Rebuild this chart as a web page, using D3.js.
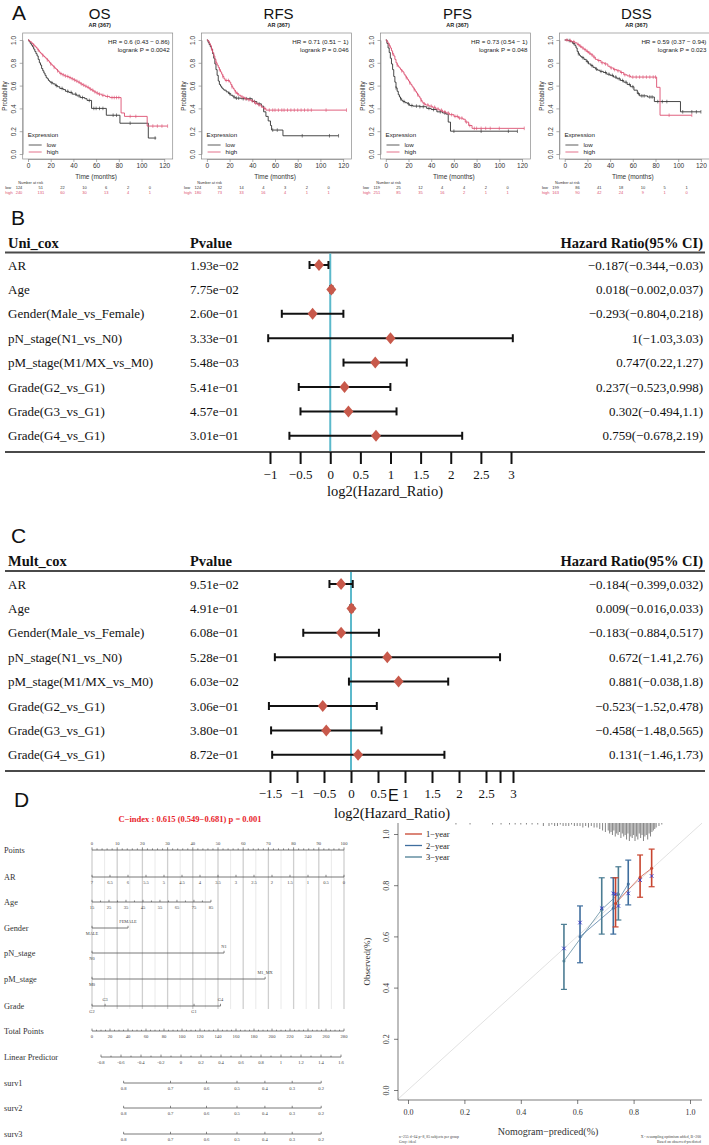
<!DOCTYPE html>
<html><head><meta charset="utf-8">
<script src="https://cdn.jsdelivr.net/npm/d3@7"></script>
<style>body{margin:0;background:#fff}svg{display:block}</style>
</head><body><svg id="c" width="709" height="1145"></svg>
<script>
// ================= DATA =================
// Panel A: Kaplan-Meier
const kmTitles = ["OS","RFS","PFS","DSS"];
const kmSubtitle = "AR (367)";
const kmHR = ["HR = 0.6 (0.43 − 0.86)","HR = 0.71 (0.51 − 1)","HR = 0.73 (0.54 − 1)","HR = 0.59 (0.37 − 0.94)"];
const kmLogrank = ["logrank P = 0.0042","logrank P = 0.046","logrank P = 0.048","logrank P = 0.023"];
const kmXTicks = [0,20,40,60,80,100,120];
const kmYTicks = [0,0.2,0.4,0.6,0.8,1.0];
const kmGroups = ["low","high"];

const osLow = [[0,1],[1,0.985],[2,0.97],[3,0.955],[4,0.94],[5,0.92],[6,0.9],[7,0.88],[8,0.86],[9,0.83],[10,0.8],[11,0.78],[12,0.75],[13,0.73],[14,0.71],[15,0.69],[16,0.67],[17,0.66],[18,0.645],[19,0.635],[20,0.625],[22,0.615],[24,0.6],[26,0.59],[28,0.575],[31,0.565],[33,0.55],[36,0.54],[39,0.525],[43,0.51],[46,0.495],[50,0.485],[52,0.47],[56,0.4],[69,0.34],[81,0.27],[106,0.14],[113,0.14]];
const osHigh = [[0,1],[1,0.99],[2,0.985],[3,0.975],[4,0.965],[5,0.955],[6,0.945],[7,0.935],[8,0.92],[9,0.91],[10,0.895],[11,0.885],[12,0.875],[13,0.865],[14,0.855],[15,0.845],[16,0.835],[17,0.825],[18,0.815],[19,0.8],[20,0.79],[21,0.78],[22,0.77],[23,0.76],[24,0.75],[25,0.74],[26,0.73],[27,0.72],[28,0.705],[30,0.695],[32,0.685],[34,0.68],[36,0.67],[38,0.66],[40,0.65],[42,0.64],[44,0.63],[46,0.615],[48,0.605],[50,0.595],[52,0.585],[54,0.57],[56,0.56],[58,0.545],[60,0.535],[62,0.525],[65,0.515],[68,0.505],[72,0.495],[82,0.36],[85,0.33],[105,0.245],[123,0.245]];
const osLowCens = [21,25,30,35,38,42,45,48,54,58,60,63,66,75,78,90,112];
const osHighCens = [5,9,13,17,20,23,26,29,31,33,35,37,39,41,43,45,47,49,51,53,55,57,59,61,63,66,70,74,76,78,80,90,95,110,114,118,123];

const rfsLow = [[0,1],[1,0.98],[2,0.96],[3,0.94],[4,0.92],[5,0.88],[6,0.84],[7,0.79],[8,0.74],[9,0.69],[10,0.64],[11,0.61],[12,0.595],[13,0.58],[14,0.57],[15,0.56],[17,0.545],[19,0.53],[21,0.515],[23,0.5],[25,0.49],[30,0.485],[40,0.46],[44,0.44],[48,0.42],[50,0.37],[52,0.33],[54,0.29],[56,0.25],[57,0.21],[67,0.16],[116,0.16]];
const rfsHigh = [[0,1],[1,0.99],[2,0.97],[3,0.95],[4,0.92],[5,0.89],[6,0.86],[7,0.83],[8,0.8],[9,0.78],[10,0.76],[11,0.74],[12,0.72],[13,0.7],[14,0.68],[15,0.66],[16,0.645],[20,0.63],[21,0.61],[22,0.59],[23,0.575],[24,0.56],[25,0.545],[26,0.53],[28,0.515],[30,0.5],[33,0.485],[36,0.475],[39,0.465],[42,0.445],[45,0.43],[48,0.41],[50,0.4],[52,0.385],[123,0.385]];
const rfsLowCens = [20,24,26,28,32,35,38,42,46,58,62,84,108,116];
const rfsHighCens = [4,8,11,14,17,19,22,25,27,31,34,37,40,43,46,51,55,58,60,63,66,68,71,74,77,80,83,86,89,92,105,123];

const pfsLow = [[0,1],[1,0.97],[2,0.93],[3,0.89],[4,0.84],[5,0.79],[6,0.74],[7,0.68],[8,0.63],[9,0.58],[10,0.55],[11,0.52],[12,0.5],[13,0.485],[14,0.47],[15,0.46],[17,0.45],[19,0.44],[21,0.425],[24,0.42],[30,0.415],[36,0.4],[40,0.39],[45,0.37],[50,0.36],[53,0.35],[55,0.28],[57,0.2],[116,0.2]];
const pfsHigh = [[0,1],[1,0.985],[2,0.97],[3,0.95],[4,0.93],[5,0.905],[6,0.88],[7,0.86],[8,0.83],[9,0.8],[10,0.78],[11,0.765],[12,0.755],[13,0.74],[14,0.73],[15,0.72],[16,0.7],[17,0.685],[18,0.67],[19,0.655],[20,0.64],[21,0.625],[22,0.61],[23,0.595],[24,0.58],[25,0.565],[26,0.55],[27,0.535],[28,0.52],[29,0.505],[30,0.49],[31,0.47],[32,0.455],[33,0.44],[35,0.43],[38,0.42],[41,0.41],[44,0.395],[47,0.385],[50,0.37],[53,0.36],[56,0.345],[60,0.33],[64,0.315],[68,0.305],[70,0.28],[73,0.25],[76,0.225],[122,0.225]];
const pfsLowCens = [9,13,16,20,23,27,30,33,38,42,48,52,60,84,108,116];
const pfsHighCens = [3,6,10,14,18,21,25,28,31,34,37,40,43,46,49,52,55,58,61,63,65,67,71,74,78,80,84,88,92,100,122];

const dssLow = [[0,1],[3,0.995],[5,0.985],[7,0.97],[9,0.95],[10,0.93],[11,0.9],[12,0.88],[13,0.865],[14,0.855],[15,0.845],[17,0.83],[19,0.81],[21,0.79],[23,0.775],[25,0.76],[27,0.745],[29,0.735],[31,0.725],[34,0.715],[37,0.7],[40,0.69],[43,0.675],[46,0.66],[49,0.645],[52,0.63],[55,0.61],[58,0.59],[61,0.56],[64,0.53],[66,0.51],[73,0.5],[79,0.46],[102,0.37],[120,0.37]];
const dssHigh = [[0,1],[3,0.995],[6,0.985],[9,0.975],[11,0.96],[13,0.945],[15,0.93],[17,0.915],[19,0.9],[21,0.885],[23,0.87],[25,0.85],[27,0.83],[29,0.82],[32,0.8],[35,0.79],[38,0.77],[40,0.755],[43,0.74],[46,0.73],[49,0.715],[52,0.695],[55,0.685],[58,0.675],[81,0.585],[84,0.34],[112,0.34]];
const dssLowCens = [4,8,12,16,20,24,28,32,36,39,42,45,48,51,54,57,60,65,68,70,75,77,82,86,90,104,112,116,120];
const dssHighCens = [2,5,8,12,14,16,18,20,22,24,26,30,33,36,41,44,47,50,53,57,60,63,66,69,72,75,78,80,92,112];

const riskTimes = [0,20,40,60,80,100,120];
const osRiskLow = [124,51,22,10,6,2,0],  osRiskHigh = [240,131,60,30,13,4,1];
const rfsRiskLow = [124,32,14,4,3,2,0],  rfsRiskHigh = [180,73,33,16,4,1,1];
const pfsRiskLow = [119,25,12,4,4,2,0],  pfsRiskHigh = [251,85,35,16,2,1,1];
const dssRiskLow = [199,86,41,18,10,5,1], dssRiskHigh = [163,90,42,24,9,1,0];

// Panels B / C: forest plots
const coxVars = ["AR","Age","Gender(Male_vs_Female)","pN_stage(N1_vs_N0)","pM_stage(M1/MX_vs_M0)","Grade(G2_vs_G1)","Grade(G3_vs_G1)","Grade(G4_vs_G1)"];
const uniP   = ["1.93e−02","7.75e−02","2.60e−01","3.33e−01","5.48e−03","5.41e−01","4.57e−01","3.01e−01"];
const uniEst = [-0.187,0.018,-0.293,1,0.747,0.237,0.302,0.759];
const uniLo  = [-0.344,-0.002,-0.804,-1.03,0.22,-0.523,-0.494,-0.678];
const uniHi  = [-0.03,0.037,0.218,3.03,1.27,0.998,1.1,2.19];
const uniTicks = [-1,-0.5,0,0.5,1,1.5,2,2.5,3];
const multP   = ["9.51e−02","4.91e−01","6.08e−01","5.28e−01","6.03e−02","3.06e−01","3.80e−01","8.72e−01"];
const multEst = [-0.184,0.009,-0.183,0.672,0.881,-0.523,-0.458,0.131];
const multLo  = [-0.399,-0.016,-0.884,-1.41,-0.038,-1.52,-1.48,-1.46];
const multHi  = [0.032,0.033,0.517,2.76,1.8,0.478,0.565,1.73];
const multTicks = [-1.5,-1,-0.5,0,0.5,1,1.5,2,2.5,2.76,3];
const multTickLabels = ["−1.5","−1","−0.5","0","0.5","1","1.5","2","2.5","","3"];

// Panel D: nomogram
const cIndexText = "C−index : 0.615 (0.549−0.681) p = 0.001";
const nomoRows = ["Points","AR","Age","Gender","pN_stage","pM_stage","Grade","Total Points","Linear Predictor","surv1","surv2","surv3"];
const pointsTicks = [0,10,20,30,40,50,60,70,80,90,100];
const arTicks = [7,6.5,6,5.5,5,4.5,4,3.5,3,2.5,2,1.5,1,0.5,0];
const arDomain = [7,0];
const ageTicks = [15,25,35,45,55,65,75,85];
const ageMinor = [20,30,40,50,60,70,80];
const agePointsAt = [0,47.2];
const genderLevels = ["MALE","FEMALE"], genderPoints = [0,14.3];
const pnLevels = ["N0","N1"], pnPoints = [0,52.4];
const pmLevels = ["M0","M1_MX"], pmPoints = [0,68.7];
const gradeLevels = ["G2","G3","G1","G4"], gradePoints = [0,5.2,40.5,51];
const totalTicks = [0,20,40,60,80,100,120,140,160,180,200,220,240,260,280];
const lpTicks = [-0.8,-0.6,-0.4,-0.2,0,0.2,0.4,0.6,0.8,1,1.2,1.4,1.6];
const survTicks = [0.8,0.7,0.6,0.5,0.4,0.3,0.2];
const survLP = [-0.574,-0.105,0.255,0.56,0.839,1.112,1.402];

// Panel E: calibration
const calGroups = ["1−year","2−year","3−year"];
const calPred = [[0.736,0.823,0.864],[0.610,0.728,0.781],[0.553,0.687,0.746]];
const calObs  = [[0.729,0.831,0.866],[0.599,0.710,0.805],[0.504,0.705,0.765]];
const calLo   = [[0.637,0.753,0.794],[0.497,0.609,0.723],[0.393,0.609,0.664]];
const calHi   = [[0.829,0.918,0.941],[0.719,0.829,0.898],[0.647,0.829,0.872]];
const calCorr = [[0.765,0.820,0.836],[0.654,0.768,0.768],[0.553,0.710,0.719]];
const calTicks = [0,0.2,0.4,0.6,0.8,1.0];
const rugPred = [0.17,0.22,0.30,0.33,0.36,0.38,0.40,0.42,0.44,0.46,0.48,0.50,0.51,0.52,0.53,0.54,0.55,0.56,0.57,0.58,0.59,0.60,0.61,0.62,0.63,0.64,0.65,0.66,0.67,0.68,0.69,0.70,0.71,0.715,0.72,0.725,0.73,0.735,0.74,0.745,0.75,0.755,0.76,0.765,0.77,0.775,0.78,0.785,0.79,0.795,0.80,0.805,0.81,0.815,0.82,0.825,0.83,0.835,0.84,0.845,0.85,0.855,0.86,0.865,0.87,0.875,0.88,0.89,0.90];
const rugFreq = [1,1,1,1,1,1,1,1,1,1,2,2,1,2,2,1,2,2,2,1,2,2,2,3,2,3,2,3,3,4,5,6,5,7,6,8,5,9,7,8,6,10,7,9,8,11,7,12,9,10,8,12,9,11,7,10,8,12,9,8,11,7,9,6,5,4,3,2,1];

// ================= DRAWING =================
const svg = d3.select("#c");
svg.append("rect").attr("width",709).attr("height",1145).attr("fill","#fff");
const SANS = "'Liberation Sans', Arial, Helvetica, sans-serif";
const SERIF = "'Liberation Serif', 'Times New Roman', Times, serif";
const fmt = v => String(v).replace("-","−");

function panelLabel(t,x,y,fs){
  svg.append("text").attr("x",x).attr("y",y).attr("font-family",SANS).attr("font-size",fs||21).attr("fill","#111").text(t);
}
panelLabel("A",12,20); panelLabel("B",11,225); panelLabel("C",11,543); panelLabel("D",14,807); panelLabel("E",388,801,16);

// ---------- Panel A ----------
const kmData = [[osLow,osHigh],[rfsLow,rfsHigh],[pfsLow,pfsHigh],[dssLow,dssHigh]];
const kmCens = [[osLowCens,osHighCens],[rfsLowCens,rfsHighCens],[pfsLowCens,pfsHighCens],[dssLowCens,dssHighCens]];
const kmRisk = [[osRiskLow,osRiskHigh],[rfsRiskLow,rfsRiskHigh],[pfsRiskLow,pfsRiskHigh],[dssRiskLow,dssRiskHigh]];
const kmColors = ["#333333","#DC4F70"];
function stepS(data,t){ let s=1; for(const [tt,ss] of data){ if(tt<=t) s=ss; } return s; }

kmTitles.forEach((title,i)=>{
  const L = 22.7 + i*178.9, W = 150, T = 33, B = 159;
  const x = d3.scaleLinear().domain([0,120]).range([L+5.3, L+141.5]);
  const y = d3.scaleLinear().domain([0,1]).range([154,40]);
  const g = svg.append("g").attr("font-family",SANS);
  g.append("text").attr("x",L+W/2+2).attr("y",19).attr("text-anchor","middle").attr("font-size",15).attr("fill","#111").text(title);
  g.append("text").attr("x",L+W/2+2).attr("y",27).attr("text-anchor","middle").attr("font-size",5.5).attr("font-weight","bold").attr("fill","#222").text(kmSubtitle);
  g.append("rect").attr("x",L).attr("y",T).attr("width",W).attr("height",B-T).attr("fill","none").attr("stroke","#8a8a8a").attr("stroke-width",0.7);
  const xa = g.append("g").attr("transform",`translate(0,${B})`)
    .call(d3.axisBottom(x).tickValues(kmXTicks).tickSize(3).tickPadding(1.5).tickSizeOuter(0));
  xa.select(".domain").attr("stroke","#777").attr("stroke-width",0.6);
  xa.selectAll(".tick line").attr("stroke","#777").attr("stroke-width",0.6);
  xa.selectAll("text").attr("font-size",6.5).attr("fill","#333").attr("font-family",SANS);
  const ya = g.append("g").attr("transform",`translate(${L},0)`)
    .call(d3.axisLeft(y).tickValues(kmYTicks).tickFormat(d3.format(".1f")).tickSize(3).tickSizeOuter(0));
  ya.select(".domain").attr("stroke","#777").attr("stroke-width",0.6);
  ya.selectAll(".tick line").attr("stroke","#777").attr("stroke-width",0.6);
  ya.selectAll("text").attr("font-size",6.5).attr("fill","#333").attr("font-family",SANS)
    .attr("x",0).attr("dy",0).attr("text-anchor","middle").attr("transform","translate(-6.8,0) rotate(-90)");
  g.append("text").attr("transform",`translate(${L-15.5},${(T+B)/2}) rotate(-90)`).attr("text-anchor","middle").attr("font-size",6.3).attr("fill","#333").text("Probability");
  g.append("text").attr("x",(x(0)+x(120))/2).attr("y",179).attr("text-anchor","middle").attr("font-size",6.5).attr("fill","#333").text("Time (months)");
  const line = d3.line().x(d=>x(d[0])).y(d=>y(d[1])).curve(d3.curveStepAfter);
  kmData[i].forEach((d,k)=>{
    g.append("path").attr("d",line(d)).attr("fill","none").attr("stroke",kmColors[k]).attr("stroke-width",0.9);
    kmCens[i][k].forEach(t=>{
      const yy = y(stepS(d,t));
      g.append("line").attr("x1",x(t)).attr("x2",x(t)).attr("y1",yy-1.8).attr("y2",yy+1.8).attr("stroke",kmColors[k]).attr("stroke-width",0.6);
    });
  });
  g.append("text").attr("x",L+W-3).attr("y",43.5).attr("text-anchor","end").attr("font-size",6.2).attr("fill","#222").text(kmHR[i]);
  g.append("text").attr("x",L+W-3).attr("y",51.5).attr("text-anchor","end").attr("font-size",6.2).attr("fill","#222").text(kmLogrank[i]);
  g.append("text").attr("x",L+5).attr("y",137).attr("font-size",6.2).attr("fill","#222").text("Expression");
  kmGroups.forEach((nm,k)=>{
    const yy = 145 + k*7;
    g.append("line").attr("x1",L+6).attr("x2",L+19).attr("y1",yy).attr("y2",yy).attr("stroke",kmColors[k]).attr("stroke-width",0.8);
    g.append("text").attr("x",L+24).attr("y",yy+2).attr("font-size",6.2).attr("fill","#222").text(nm);
  });
  g.append("text").attr("x",L+8).attr("y",184).attr("text-anchor","middle").attr("font-size",3.8).attr("fill","#333").text("Number at risk");
  kmGroups.forEach((nm,k)=>{
    const yy = 189 + k*5;
    g.append("text").attr("x",L-17.5).attr("y",yy).attr("font-size",4).attr("fill",kmColors[k]).text(nm);
    riskTimes.forEach((t,j)=>{
      g.append("text").attr("x",L-3.7 + j*21.8).attr("y",yy).attr("text-anchor","middle").attr("font-size",4).attr("fill",kmColors[k]).text(kmRisk[i][k][j]);
    });
  });
});

// ---------- Panels B & C ----------
function forest(o){
  const g = svg.append("g").attr("font-family",SERIF).attr("fill","#111");
  const x = d3.scaleLinear().domain(o.domain).range(o.range);
  g.append("text").attr("x",8).attr("y",o.headY).attr("font-size",14.5).attr("font-weight","bold").text(o.title);
  g.append("text").attr("x",190).attr("y",o.headY).attr("font-size",14.5).attr("font-weight","bold").text("Pvalue");
  g.append("text").attr("x",703).attr("y",o.headY).attr("text-anchor","end").attr("font-size",14.5).attr("font-weight","bold").text("Hazard Ratio(95% CI)");
  g.append("line").attr("x1",5).attr("x2",705).attr("y1",o.topY).attr("y2",o.topY).attr("stroke","#4a4a4a").attr("stroke-width",2);
  g.append("line").attr("x1",5).attr("x2",705).attr("y1",o.botY).attr("y2",o.botY).attr("stroke","#4a4a4a").attr("stroke-width",2);
  g.append("line").attr("x1",x(0)).attr("x2",x(0)).attr("y1",o.topY+1).attr("y2",o.botY-1).attr("stroke","#5CB9CB").attr("stroke-width",2);
  coxVars.forEach((v,i)=>{
    const yy = o.rowY0 + i*o.rowStep;
    g.append("text").attr("x",8).attr("y",yy+4.5).attr("font-size",13).text(v);
    g.append("text").attr("x",190).attr("y",yy+4.5).attr("font-size",13).text(o.p[i]);
    g.append("text").attr("x",703).attr("y",yy+4.5).attr("text-anchor","end").attr("font-size",13)
      .text(`${fmt(o.est[i])}(${fmt(o.lo[i])},${fmt(o.hi[i])})`);
    g.append("line").attr("x1",x(o.lo[i])).attr("x2",x(o.hi[i])).attr("y1",yy).attr("y2",yy).attr("stroke","#111").attr("stroke-width",2);
    [o.lo[i],o.hi[i]].forEach(e=>g.append("line").attr("x1",x(e)).attr("x2",x(e)).attr("y1",yy-4).attr("y2",yy+4).attr("stroke","#111").attr("stroke-width",2));
    const cx = x(o.est[i]);
    g.append("path").attr("d",`M${cx},${yy-6}L${cx+5},${yy}L${cx},${yy+6}L${cx-5},${yy}Z`).attr("fill","#C8594B");
  });
  const ax = g.append("g").attr("transform",`translate(0,${o.botY})`)
    .call(d3.axisBottom(x).tickValues(o.ticks).tickSize(12).tickPadding(6).tickFormat((d,i)=>o.tickLabels[i]));
  ax.select(".domain").remove();
  ax.selectAll(".tick line").attr("stroke","#111").attr("stroke-width",2);
  ax.selectAll("text").attr("font-size",13).attr("font-family",SERIF).attr("fill","#111");
  g.append("text").attr("x",o.titleX).attr("y",o.botY+o.titleDy).attr("text-anchor","middle").attr("font-size",14.5).text("log2(Hazard_Ratio)");
}
forest({title:"Uni_cox",headY:248,topY:252.5,botY:452,rowY0:265,rowStep:24.4,domain:[-1,3],range:[270,511],
  p:uniP,est:uniEst,lo:uniLo,hi:uniHi,ticks:uniTicks,tickLabels:uniTicks.map(fmt),titleX:385,titleDy:44});
forest({title:"Mult_cox",headY:566,topY:571,botY:771,rowY0:584,rowStep:24.4,domain:[-1.5,3],range:[270,513],
  p:multP,est:multEst,lo:multLo,hi:multHi,ticks:multTicks,tickLabels:multTickLabels,titleX:392,titleDy:47});

// ---------- Panel D: nomogram ----------
(function(){
  const g = svg.append("g").attr("font-family",SERIF).attr("fill","#222");
  const px = d3.scaleLinear().domain([0,100]).range([92,344]);
  const arX = d3.scaleLinear().domain(arDomain).range([px(0),px(100)]);
  const ageX = d3.scaleLinear().domain([15,85]).range([px(agePointsAt[0]),px(agePointsAt[1])]);
  const totX = d3.scaleLinear().domain([0,280]).range([92,344]);
  const lpX = d3.scaleLinear().domain([-0.8,1.6]).range([101,341]);
  const rowY = [850,877,902,928,953,979,1006,1031,1057,1083,1108,1134];
  g.append("text").attr("x",190).attr("y",822).attr("text-anchor","middle").attr("font-size",8.5).attr("font-weight","bold").attr("fill","#E8232A").text(cIndexText);
  nomoRows.forEach((r,i)=>g.append("text").attr("x",4).attr("y",rowY[i]+3).attr("font-size",8.3).attr("fill","#333").text(r));
  d3.range(0,101,5).forEach(p=>{
    g.append("line").attr("x1",px(p)).attr("x2",px(p)).attr("y1",850).attr("y2",1009)
      .attr("stroke", p%10===0 ? "#cfcfcf" : "#e4e4e4").attr("stroke-width", p%10===0 ? 1.3 : 0.8);
  });
  const axLine = (x1,x2,y)=>g.append("line").attr("x1",x1).attr("x2",x2).attr("y1",y).attr("y2",y).attr("stroke","#555").attr("stroke-width",0.8);
  const tick = (x,y,h)=>g.append("line").attr("x1",x).attr("x2",x).attr("y1",y).attr("y2",y-h).attr("stroke","#555").attr("stroke-width",0.7);
  const lab = (x,y,t,fs)=>g.append("text").attr("x",x).attr("y",y).attr("text-anchor","middle").attr("font-size",fs||4.6).attr("fill","#444").text(t);
  axLine(px(0),px(100),rowY[0]);
  d3.range(0,101,2).forEach(p=>tick(px(p),rowY[0], p%10===0?2.6:1.6));
  pointsTicks.forEach(p=>lab(px(p),rowY[0]-5,p));
  axLine(arX(7),arX(0),rowY[1]);
  arTicks.forEach(v=>{tick(arX(v),rowY[1],2.2); lab(arX(v),rowY[1]+7,v);});
  axLine(ageX(15),ageX(85),rowY[2]);
  ageTicks.forEach(v=>{tick(ageX(v),rowY[2],2.2); lab(ageX(v),rowY[2]+7,v);});
  ageMinor.forEach(v=>tick(ageX(v),rowY[2],1.5));
  function cat(levels,points,y,aboveIdx){
    const xs = points.map(p=>px(p));
    axLine(d3.min(xs),d3.max(xs),y);
    levels.forEach((l,i)=>{
      tick(xs[i],y,2.2);
      const above = aboveIdx.includes(i);
      lab(xs[i], above ? y-5 : y+7, l, 4.4);
    });
  }
  cat(genderLevels,genderPoints,rowY[3],[1]);
  cat(pnLevels,pnPoints,rowY[4],[1]);
  cat(pmLevels,pmPoints,rowY[5],[1]);
  cat(gradeLevels,gradePoints,rowY[6],[1,3]);
  axLine(totX(0),totX(280),rowY[7]);
  d3.range(0,281,5).forEach(v=>tick(totX(v),rowY[7], v%20===0?2.4:1.3));
  totalTicks.forEach(v=>lab(totX(v),rowY[7]+7,v));
  axLine(lpX(-0.8),lpX(1.6),rowY[8]);
  d3.range(-8,17,1).forEach(k=>tick(lpX(k/10),rowY[8], k%2===0?2.4:1.4));
  lpTicks.forEach(v=>lab(lpX(v),rowY[8]+7,String(+v.toFixed(1))));
  [9,10,11].forEach(r=>{
    axLine(lpX(survLP[0]),lpX(survLP[survLP.length-1]),rowY[r]);
    survTicks.forEach((s,i)=>{tick(lpX(survLP[i]),rowY[r],2.2); lab(lpX(survLP[i]),rowY[r]+7,s.toFixed(1));});
  });
})();

// ---------- Panel E: calibration ----------
(function(){
  const g = svg.append("g").attr("font-family",SERIF).attr("fill","#222");
  const x = d3.scaleLinear().domain([0,1]).range([408,690]);
  const y = d3.scaleLinear().domain([0,1]).range([1090,834]);
  const colors = ["#C8452F","#3F6E9E","#4C7D93"];
  const Lx = 398, Rx = 702, Ty = 823, By = 1100;
  g.append("line").attr("x1",Lx).attr("y1",y(x.invert(Lx))).attr("x2",Rx).attr("y2",y(x.invert(Rx))).attr("stroke","#d9d9d9").attr("stroke-width",0.8);
  g.append("path").attr("d",`M${Lx},${Ty}V${By}H${Rx}`).attr("fill","none").attr("stroke","#444").attr("stroke-width",0.7);
  const xa = g.append("g").attr("transform",`translate(0,${By})`).call(d3.axisBottom(x).tickValues(calTicks).tickFormat(d3.format(".1f")).tickSize(4).tickPadding(5).tickSizeOuter(0));
  xa.select(".domain").remove();
  xa.selectAll(".tick line").attr("stroke","#444").attr("stroke-width",0.7);
  xa.selectAll("text").attr("font-size",8).attr("font-family",SERIF).attr("fill","#333");
  const ya = g.append("g").attr("transform",`translate(${Lx},0)`).call(d3.axisLeft(y).tickValues(calTicks).tickFormat(d3.format(".1f")).tickSize(4).tickSizeOuter(0));
  ya.select(".domain").remove();
  ya.selectAll(".tick line").attr("stroke","#444").attr("stroke-width",0.7);
  ya.selectAll("text").attr("font-size",8).attr("font-family",SERIF).attr("fill","#333")
    .attr("x",0).attr("dy",0).attr("text-anchor","middle").attr("transform","translate(-9,0) rotate(-90)");
  g.append("text").attr("transform",`translate(370,${(Ty+By)/2}) rotate(-90)`).attr("text-anchor","middle").attr("font-size",9).attr("fill","#333").text("Observed(%)");
  g.append("text").attr("x",548).attr("y",1135).attr("text-anchor","middle").attr("font-size",10).attr("fill","#333").text("Nomogram−prediced(%)");
  g.append("text").attr("x",399).attr("y",1138).attr("font-size",3.8).attr("fill","#444").text("n=255 d=64 p=8, 85 subjects per group");
  g.append("text").attr("x",399).attr("y",1142.5).attr("font-size",3.8).attr("fill","#444").text("Gray: ideal");
  g.append("text").attr("x",701).attr("y",1138).attr("text-anchor","end").attr("font-size",3.8).attr("fill","#444").text("X - resampling optimism added, B=200");
  g.append("text").attr("x",701).attr("y",1142.5).attr("text-anchor","end").attr("font-size",3.8).attr("fill","#444").text("Based on observed-predicted");
  const rl = d3.scaleLinear().domain([0,12]).range([0,18]);
  rugPred.forEach((p,i)=>g.append("line").attr("x1",x(p)).attr("x2",x(p)).attr("y1",Ty).attr("y2",Ty+Math.max(1.2,rl(rugFreq[i]))).attr("stroke","#333").attr("stroke-width",0.6));
  calGroups.forEach((nm,k)=>{
    const yy = 834 + k*11.5;
    g.append("line").attr("x1",405).attr("x2",422).attr("y1",yy).attr("y2",yy).attr("stroke",colors[k]).attr("stroke-width",1.3);
    g.append("text").attr("x",426).attr("y",yy+3).attr("font-size",8.5).attr("fill","#222").text(nm);
  });
  [2,1,0].forEach(k=>{
    const pts = calPred[k].map((p,i)=>[x(p),y(calObs[k][i])]);
    g.append("path").attr("d",d3.line()(pts)).attr("fill","none").attr("stroke",colors[k]).attr("stroke-width",0.7);
    calPred[k].forEach((p,i)=>{
      const xx = x(p);
      g.append("line").attr("x1",xx).attr("x2",xx).attr("y1",y(calLo[k][i])).attr("y2",y(calHi[k][i])).attr("stroke",colors[k]).attr("stroke-width",1.6);
      [calLo[k][i],calHi[k][i]].forEach(e=>g.append("line").attr("x1",xx-3).attr("x2",xx+3).attr("y1",y(e)).attr("y2",y(e)).attr("stroke",colors[k]).attr("stroke-width",1.2));
      g.append("circle").attr("cx",xx).attr("cy",y(calObs[k][i])).attr("r",1.5).attr("fill",colors[k]);
      const cy = y(calCorr[k][i]);
      g.append("path").attr("d",`M${xx-1.8},${cy-1.8}L${xx+1.8},${cy+1.8}M${xx-1.8},${cy+1.8}L${xx+1.8},${cy-1.8}`).attr("stroke","#3535C8").attr("stroke-width",0.9);
    });
  });
})();
</script></body></html>
